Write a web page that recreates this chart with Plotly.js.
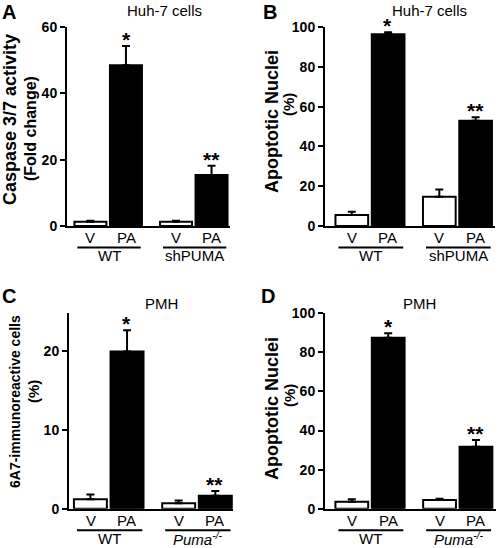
<!DOCTYPE html>
<html>
<head>
<meta charset="utf-8">
<script src="https://cdn.plot.ly/plotly-3.0.1.min.js"></script>
<style>html,body{margin:0;padding:0;background:#fff;}#chart{width:498px;height:548px;}</style>
</head>
<body>
<div id="chart"></div>
<script>
// ---------- data ----------
const conditions = ['V', 'PA'];
const groupsHuh = ['WT', 'shPUMA'];
const groupsPMH = ['WT', '<i>Puma<sup>-/-</sup></i>'];
const sigPA = ['*', '**'];

// A: Caspase 3/7 activity (fold change), Huh-7
const caspaseV = [1.3, 1.3];
const caspaseVErr = [0.3, 0.3];
const caspasePA = [48.5, 15.4];
const caspasePAErr = [5.8, 2.8];

// B: Apoptotic nuclei (%), Huh-7
const apoHuhV = [5.5, 14.7];
const apoHuhVErr = [1.7, 3.7];
const apoHuhPA = [96.3, 52.9];
const apoHuhPAErr = [1.0, 1.7];

// C: 6A7-immunoreactive cells (%), PMH
const a6a7V = [1.2, 0.7];
const a6a7VErr = [0.6, 0.35];
const a6a7PA = [19.9, 1.65];
const a6a7PAErr = [2.7, 0.6];

// D: Apoptotic nuclei (%), PMH
const apoPmhV = [3.6, 4.45];
const apoPmhVErr = [1.2, 0.65];
const apoPmhPA = [87.5, 31.7];
const apoPmhPAErr = [2.3, 3.5];

// ---------- layout helpers ----------
const W = 498, H = 548;
const px = x => x / W;
const py = y => 1 - y / H;
const FONT = 'Liberation Sans, Arial, Helvetica, sans-serif';

const panels = [
  {letter: 'A', letterPos: [9, 12], title: 'Huh-7 cells', titlePos: [164, 10],
   xdom: [67, 230], ydom: [27, 226], xrange: [-0.481, 1.423], yrange: [0, 60], dtick: 20,
   groups: groupsHuh, v: caspaseV, vErr: caspaseVErr, pa: caspasePA, paErr: caspasePAErr,
   ytitles: [{text: 'Caspase 3/7 activity', x: 10, y: 120, size: 18}, {text: '(Fold change)', x: 30, y: 129, size: 16}],
   axisY: 226},
  {letter: 'B', letterPos: [270, 12], title: 'Huh-7 cells', titlePos: [429, 10],
   xdom: [325, 495], ydom: [27, 226], xrange: [-0.514, 1.429], yrange: [0, 100], dtick: 20,
   groups: groupsHuh, v: apoHuhV, vErr: apoHuhVErr, pa: apoHuhPA, paErr: apoHuhPAErr,
   ytitles: [{text: 'Apoptotic Nuclei', x: 272, y: 122, size: 18}, {text: '(%)', x: 289, y: 105, size: 15}],
   axisY: 226},
  {letter: 'C', letterPos: [9, 296], title: 'PMH', titlePos: [161, 303],
   xdom: [69, 233], ydom: [313.3, 508.7], xrange: [-0.45, 1.408], yrange: [0, 24.73], dtick: 10,
   groups: groupsPMH, v: a6a7V, vErr: a6a7VErr, pa: a6a7PA, paErr: a6a7PAErr,
   ytitles: [{text: '6A7-immunoreactive cells', x: 15, y: 402, size: 14}, {text: '(%)', x: 33, y: 392, size: 15}],
   axisY: 508.7},
  {letter: 'D', letterPos: [268, 296], title: 'PMH', titlePos: [419, 303],
   xdom: [325, 496], ydom: [313.3, 508.7], xrange: [-0.513, 1.436], yrange: [0, 100], dtick: 20,
   groups: groupsPMH, v: apoPmhV, vErr: apoPmhVErr, pa: apoPmhPA, paErr: apoPmhPAErr,
   ytitles: [{text: 'Apoptotic Nuclei', x: 272, y: 409, size: 18}, {text: '(%)', x: 289, y: 396, size: 15}],
   axisY: 508.7}
];

const data = [];
const layout = {
  width: W, height: H,
  margin: {l: 0, r: 0, t: 0, b: 0, pad: 0},
  paper_bgcolor: 'white', plot_bgcolor: 'white',
  showlegend: false,
  barmode: 'group', bargap: 0.17, bargroupgap: 0.1,
  font: {family: FONT, color: 'black', size: 15},
  annotations: [], shapes: []
};

panels.forEach((p, i) => {
  const n = i === 0 ? '' : String(i + 1);
  const xa = 'x' + n, ya = 'y' + n;
  const xKey = 'xaxis' + n, yKey = 'yaxis' + n;
  const cats = [0, 1];

  data.push({
    type: 'bar', x: cats, y: p.v, xaxis: xa, yaxis: ya, name: conditions[0],
    marker: {color: 'white', line: {color: 'black', width: 2}},
    error_y: {type: 'data', symmetric: false, array: p.vErr, arrayminus: p.vErr.map(() => 0),
              color: 'black', thickness: 2, width: 4},
    hoverinfo: 'skip'
  });
  data.push({
    type: 'bar', x: cats, y: p.pa, xaxis: xa, yaxis: ya, name: conditions[1],
    marker: {color: 'black', line: {color: 'black', width: 2}},
    error_y: {type: 'data', symmetric: false, array: p.paErr, arrayminus: p.paErr.map(() => 0),
              color: 'black', thickness: 2, width: 4},
    hoverinfo: 'skip'
  });

  layout[xKey] = {
    domain: [px(p.xdom[0]), px(p.xdom[1])], range: p.xrange, anchor: ya,
    type: 'linear', showline: true, linewidth: 2, linecolor: 'black',
    ticks: '', showticklabels: false, showgrid: false, zeroline: false, fixedrange: true
  };
  layout[yKey] = {
    domain: [py(p.ydom[1]), py(p.ydom[0])], range: p.yrange, anchor: xa,
    showline: true, linewidth: 2, linecolor: 'black',
    ticks: 'outside', ticklen: 5, tickwidth: 2, tickcolor: 'black', dtick: p.dtick, tick0: 0,
    tickfont: {family: FONT, size: 14, weight: 'bold', color: 'black'},
    showgrid: false, zeroline: false, fixedrange: true
  };

  // panel letter & title
  layout.annotations.push({text: p.letter, xref: 'paper', yref: 'paper', x: px(p.letterPos[0]), y: py(p.letterPos[1]),
    xanchor: 'center', yanchor: 'middle', showarrow: false, font: {size: 20, weight: 'bold'}});
  layout.annotations.push({text: p.title, xref: 'paper', yref: 'paper', x: px(p.titlePos[0]), y: py(p.titlePos[1]),
    xanchor: 'center', yanchor: 'middle', showarrow: false, font: {size: 15}});
  // y titles
  p.ytitles.forEach(t => layout.annotations.push({text: t.text, xref: 'paper', yref: 'paper', x: px(t.x), y: py(t.y),
    xanchor: 'center', yanchor: 'middle', textangle: -90, showarrow: false, font: {size: t.size, weight: 'bold'}}));

  p.groups.forEach((g, gi) => {
    // condition labels
    conditions.forEach((c, ci) => layout.annotations.push({text: c, xref: xa, yref: 'paper', x: gi,
      xshift: ci === 0 ? -18 : 18, y: py(p.axisY + 11.5), xanchor: 'center', yanchor: 'middle',
      showarrow: false, font: {size: 15}}));
    // underline
    layout.shapes.push({type: 'line', xref: xa, yref: 'paper', x0: gi - 0.36, x1: gi + 0.38,
      y0: py(p.axisY + 21.5), y1: py(p.axisY + 21.5), line: {color: 'black', width: 2}});
    // group label
    layout.annotations.push({text: g, xref: xa, yref: 'paper', x: gi + 0.01, y: py(p.axisY + 29.5),
      xanchor: 'center', yanchor: 'middle', showarrow: false, font: {size: 15}});
    // significance
    layout.annotations.push({text: sigPA[gi], xref: xa, yref: ya, x: gi, xshift: 18,
      y: p.pa[gi] + p.paErr[gi], xanchor: 'center', yanchor: 'bottom', yshift: -7,
      showarrow: false, font: {size: 21, weight: 'bold'}});
  });
});

Plotly.newPlot('chart', data, layout, {staticPlot: true, displayModeBar: false});
</script>
</body>
</html>
